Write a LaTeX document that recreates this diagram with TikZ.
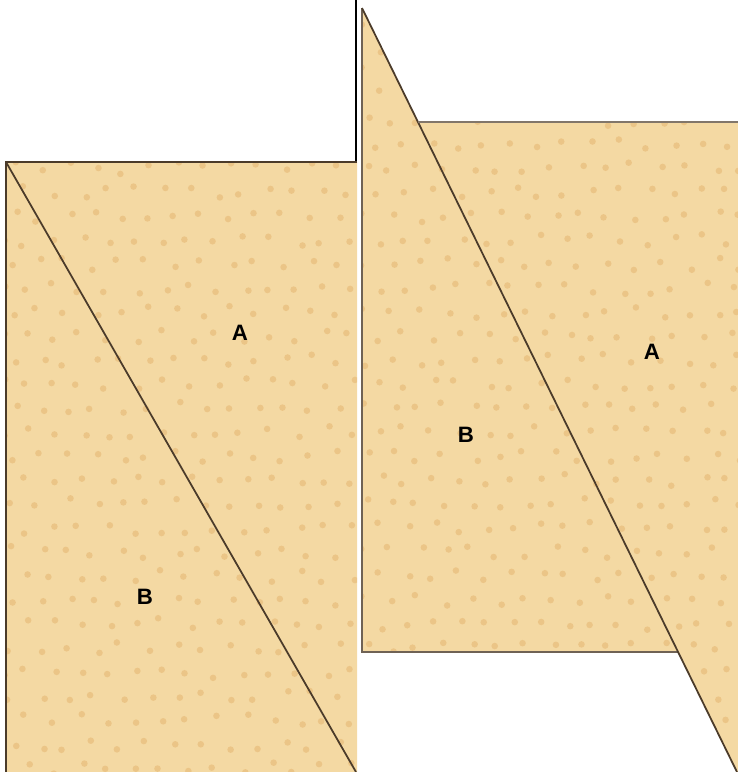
\documentclass[tikz,border=0pt]{standalone}
\usepackage{fontspec}
\setmainfont{Liberation Sans}
\usetikzlibrary{positioning}

\definecolor{fabric}{HTML}{F4D9A3}
\definecolor{fabricdot}{HTML}{E2AE66}
\definecolor{seam}{HTML}{4B3B2A}

\begin{document}
\begin{tikzpicture}[x=0.03cm,y=-0.03cm,
  seam line/.style={draw=seam,line width=1.5pt},
  frame line/.style={draw=black,line width=1.1pt},
  piece label/.style={font=\fontsize{19}{22}\selectfont\bfseries,text=black}]

  \useasboundingbox (0,0) rectangle (738,772);

  % left block
  \coordinate (LTL) at (6,162);
  \coordinate (LTR) at (357,162);
  \coordinate (LBL) at (6,772);
  \coordinate (LBR) at (357,772);
  \coordinate (LCut) at (356,772);

  % right block
  \coordinate (RTop) at (362,8);
  \coordinate (RBL) at (362,652);
  \coordinate (RBR) at (678,652);
  \coordinate (ATL) at (418,122);
  \coordinate (ATR) at (738,122);
  \coordinate (ABR) at (738,772);
  \coordinate (RCut) at (737,772);

  % fabric with dots
  \begin{scope}
    \clip (LTL) -- (LTR) -- (LBR) -- (LBL) -- cycle
          (RTop) -- (RBR) -- (RBL) -- cycle
          (ATL) -- (ATR) -- (ABR) -- (RCut) -- cycle;
    \fill[fabric] (0,0) rectangle (738,772);
    \pgfmathsetseed{11}
    \foreach \r in {0,...,33}{
      \foreach \c in {0,...,27}{
        \fill[fabricdot,opacity=0.45]
          ({\c*27+mod(\r,2)*13+rand*6},{\r*24+rand*6}) circle (3.3);
      }
    }
  \end{scope}

  % seams and edges
  \draw[frame line] (356,0) -- (356,162);
  \draw[seam line] (LBL) -- (LTL) -- (LTR);
  \draw[seam line] (LTL) -- (LCut);
  \draw[seam line,draw=seam!80] (RTop) -- (RBL) -- (RBR);
  \draw[seam line] (RTop) -- (RCut);
  \draw[seam line,draw=seam!70] (ATL) -- (ATR);

  % piece labels
  \node[piece label] (leftA) at (240,333) {A};
  \node[piece label] (leftB) at (145,597) {B};
  \node[piece label] (rightB) at (466,435) {B};
  \node[piece label] (rightA) at (652,352) {A};

\end{tikzpicture}
\end{document}
